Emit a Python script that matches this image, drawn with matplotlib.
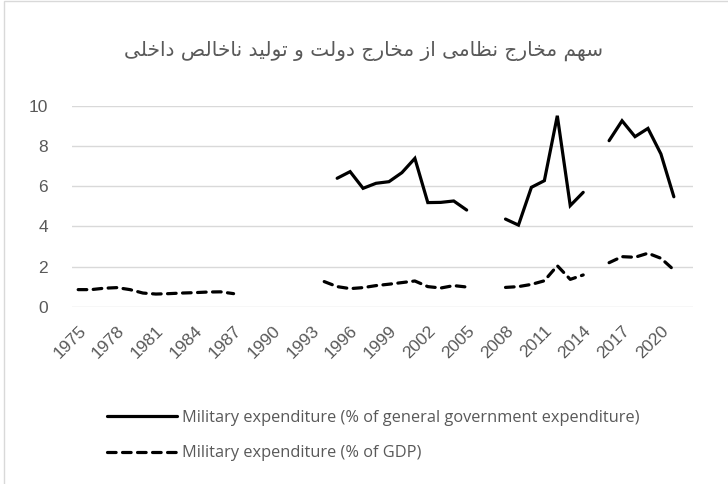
import numpy as np
import matplotlib
matplotlib.use("Agg")
import matplotlib.pyplot as plt
from matplotlib.patches import Rectangle

nan = np.nan

# ========== 数据 ==========
years = list(range(1975, 2022))

gov_exp = [nan] * 20 + [
    6.39, 6.72, 5.89, 6.14, 6.22, 6.67, 7.38, 5.18, 5.19, 5.26, 4.81,   # 1995-2005
    nan, nan,
    4.36, 4.06, 5.94, 6.27, 9.50, 5.03, 5.69,                          # 2008-2014
    nan,
    8.26, 9.25, 8.46, 8.87, 7.60, 5.47,                                # 2016-2021
]

gdp = [
    0.85, 0.85, 0.92, 0.95, 0.85, 0.68, 0.63, 0.65, 0.68, 0.70, 0.73, 0.74, 0.65,  # 1975-1987
    nan, nan, nan, nan, nan, nan,
    1.25, 1.00, 0.90, 0.95, 1.05, 1.12, 1.20, 1.28, 1.00, 0.93, 1.05, 0.98,      # 1994-2005
    nan, nan,
    0.96, 1.00, 1.11, 1.29, 2.04, 1.36, 1.58,                                      # 2008-2014
    nan,
    2.19, 2.49, 2.46, 2.66, 2.41, 1.83,                                            # 2016-2021
]

xtick_years = list(range(1975, 2021, 3))
yticks = [0, 2, 4, 6, 8, 10]

title_fa = "سهم مخارج نظامی از مخارج دولت و تولید ناخالص داخلی"
label_gov = "Military expenditure (% of general government expenditure)"
label_gdp = "Military expenditure (% of GDP)"


# ========== 简单的阿拉伯/波斯字形连接 ==========
# (iso, fin, ini, med); 只有两种形式的字母不与后一个字母相连
FORMS = {
    "ا": (0xFE8D, 0xFE8E), "د": (0xFEA9, 0xFEAA), "ر": (0xFEAD, 0xFEAE),
    "ز": (0xFEAF, 0xFEB0), "و": (0xFEED, 0xFEEE),
    "ت": (0xFE95, 0xFE96, 0xFE97, 0xFE98), "ج": (0xFE9D, 0xFE9E, 0xFE9F, 0xFEA0),
    "خ": (0xFEA5, 0xFEA6, 0xFEA7, 0xFEA8), "س": (0xFEB1, 0xFEB2, 0xFEB3, 0xFEB4),
    "ص": (0xFEB9, 0xFEBA, 0xFEBB, 0xFEBC), "ظ": (0xFEC5, 0xFEC6, 0xFEC7, 0xFEC8),
    "ل": (0xFEDD, 0xFEDE, 0xFEDF, 0xFEE0), "م": (0xFEE1, 0xFEE2, 0xFEE3, 0xFEE4),
    "ن": (0xFEE5, 0xFEE6, 0xFEE7, 0xFEE8), "ه": (0xFEE9, 0xFEEA, 0xFEEB, 0xFEEC),
    "ی": (0xFEEF, 0xFEF0, 0xFEF3, 0xFEF4),
}


def shape_rtl(text):
    out = []
    for i, ch in enumerate(text):
        if ch not in FORMS:
            out.append(ch)
            continue
        prev_ch = text[i - 1] if i > 0 else ""
        next_ch = text[i + 1] if i + 1 < len(text) else ""
        joins_prev = prev_ch in FORMS and len(FORMS[prev_ch]) == 4
        joins_next = len(FORMS[ch]) == 4 and next_ch in FORMS
        f = FORMS[ch]
        if joins_prev and joins_next:
            out.append(chr(f[3]))
        elif joins_prev:
            out.append(chr(f[1]))
        elif joins_next:
            out.append(chr(f[2]))
        else:
            out.append(chr(f[0]))
    return "".join(out)[::-1]


# ========== 绘图 ==========
grey = "#595959"
fig = plt.figure(figsize=(7.28, 4.84), dpi=100)
ax = fig.add_axes([0.0985, 0.3663, 0.8538, 0.4153])

ax.plot(years, gov_exp, color="black", lw=2.3, solid_capstyle="round",
        solid_joinstyle="miter", label=label_gov)
ax.plot(years, gdp, color="black", lw=2.3, linestyle=(0, (2.7, 2.0)),
        dash_capstyle="round", label=label_gdp)

ax.set_xlim(1974.5, 2022.5)
ax.set_ylim(0, 10)
ax.set_yticks(yticks)
ax.set_xticks(xtick_years)
ax.set_xticklabels([str(y) for y in xtick_years], rotation=45, ha="right",
                   va="top", rotation_mode="anchor")
ax.grid(axis="y", color="#D9D9D9", lw=1.0)
ax.set_axisbelow(True)
for s in ax.spines.values():
    s.set_visible(False)
ax.tick_params(axis="y", length=0, pad=17, labelsize=12.5, colors=grey)
ax.tick_params(axis="x", length=0, pad=12, labelsize=12.5, colors=grey)
for lab in ax.get_xticklabels() + ax.get_yticklabels():
    lab.set_fontfamily("Liberation Sans")

fig.text(0.5, 0.895, shape_rtl(title_fa), ha="center", va="center",
         fontsize=14.5, color=grey, family="DejaVu Sans")

leg = fig.legend(loc="upper left", bbox_to_anchor=(0.147, 0.1535), frameon=False,
                 borderpad=0, borderaxespad=0, handlelength=4.25, handletextpad=0.3,
                 labelspacing=1.2, prop={"family": "Open Sans", "size": 11.8})
for t in leg.get_texts():
    t.set_color(grey)

fig.patches.append(Rectangle((4 / 728, -0.1), 1.2, 1.098, transform=fig.transFigure,
                             fill=False, edgecolor="#D9D9D9", lw=1.0))

plt.savefig("out.png", dpi=100)
